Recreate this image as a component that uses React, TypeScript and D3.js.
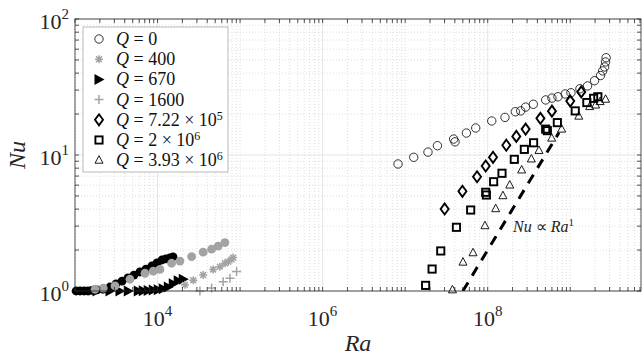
import React from 'react';
import * as d3 from 'd3';

const W = 644;
const H = 358;
const margin = { top: 19, right: 3, bottom: 67, left: 75 };

// Q = 0 (open circles)
const raQ0 = [8.2e6, 1.27e7, 1.89e7, 2.46e7, 3.87e7, 4.02e7, 5.52e7, 7.16e7, 1.12e8, 1.62e8, 2.16e8, 2.51e8, 2.88e8, 3.57e8, 5.04e8, 6.0e8, 7.1e8, 8.7e8, 1.02e9, 1.31e9, 1.62e9, 1.97e9, 2.33e9, 2.47e9, 2.61e9, 2.68e9, 2.72e9];
const nuQ0 = [8.59, 9.62, 10.5, 11.7, 13.1, 12.5, 14.5, 15.8, 17.8, 18.9, 20.8, 21.1, 22.5, 23.6, 25.4, 26.2, 26.8, 28.1, 28.7, 30.7, 32.2, 35.2, 38.4, 41.5, 44.4, 48.3, 51.9];

// Q = 400 (grey asterisks)
const raQ400 = [2.15e4, 2.71e4, 3.57e4, 4.72e4, 5.69e4, 6.55e4, 7.18e4, 7.89e4, 8.25e4];
const nuQ400 = [1.11, 1.2, 1.31, 1.44, 1.51, 1.6, 1.64, 1.71, 1.76];

// Q = 670 (black right triangles)
const raQ670 = [1.85e3, 2.65e3, 3.5e3, 4.42e3, 5.84e3, 6.71e3, 7.71e3, 8.87e3, 1.02e4, 1.17e4, 1.35e4, 1.55e4, 1.78e4, 2.05e4];
const nuQ670 = [1.0, 1.0, 1.0, 1.0, 1.0, 1.005, 1.01, 1.015, 1.02, 1.04, 1.07, 1.13, 1.19, 1.22];

// Q = 1600 (grey plus)
const raQ1600 = [3.26e4, 4.52e4, 6.24e4, 7.53e4, 9.07e4];
const nuQ1600 = [1.0, 1.05, 1.17, 1.24, 1.39];

// Q = 7.22e5 (diamonds)
const raQ722 = [3.01e7, 4.94e7, 7.43e7, 9.46e7, 1.16e8, 1.68e8, 2.22e8, 2.88e8, 4.35e8, 6.0e8, 1.0e9, 1.36e9];
const nuQ722 = [4.01, 5.41, 6.92, 8.3, 9.62, 11.8, 13.7, 15.5, 18.6, 21.0, 24.9, 29.1];

// Q = 2e6 (squares)
const raQ2 = [1.77e7, 2.12e7, 2.7e7, 4.18e7, 6.22e7, 9.46e7, 9.64e7, 1.18e8, 1.49e8, 2.1e8, 2.78e8, 3.6e8, 5.04e8, 5.28e8, 6.98e8, 1.15e9, 1.59e9, 1.92e9, 2.16e9];
const nuQ2 = [1.1, 1.45, 1.97, 2.94, 3.94, 5.32, 5.08, 6.36, 7.34, 9.29, 11.0, 12.3, 15.5, 15.1, 17.3, 21.1, 24.3, 26.1, 26.8];

// Q = 3.93e6 (triangles)
const raQ393 = [3.74e7, 5.02e7, 6.64e7, 9.27e7, 1.25e8, 1.53e8, 1.85e8, 2.58e8, 3.38e8, 4.18e8, 5.96e8, 7.87e8, 1.27e9, 1.72e9, 2.03e9, 2.3e9, 2.68e9];
const nuQ393 = [1.02, 1.63, 1.91, 3.02, 4.03, 5.02, 6.01, 7.76, 9.35, 10.8, 13.3, 15.5, 19.3, 22.7, 23.3, 24.7, 25.7];

// unlabelled low-Ra series (filled circles)
const raBlack = [1.03e3, 1.15e3, 1.29e3, 1.44e3, 1.61e3, 1.85e3, 2.18e3, 2.65e3, 3.14e3, 3.71e3, 4.38e3, 5.18e3, 6.12e3, 7.24e3, 8.55e3, 9.84e3, 1.13e4, 1.26e4, 1.41e4, 1.54e4];
const nuBlack = [1.0, 1.0, 1.0, 1.0, 1.01, 1.02, 1.03, 1.07, 1.13, 1.18, 1.25, 1.31, 1.38, 1.45, 1.53, 1.61, 1.69, 1.72, 1.75, 1.78];
const raGrey = [1.75e3, 2.2e3, 3.05e3, 4.63e3, 7.04e3, 8.87e3, 1.07e4, 1.48e4, 1.87e4, 2.59e4, 3.57e4, 4.52e4, 5.43e4, 6.55e4];
const nuGrey = [1.03, 1.05, 1.09, 1.22, 1.35, 1.4, 1.44, 1.6, 1.66, 1.79, 1.93, 2.03, 2.14, 2.27];

// Nu ~ Ra^1 guide
const fitRa = [5e7, 7.3e8];
const fitNu = [1, 14.6];

const xTicks = [1e4, 1e6, 1e8];
const yTicks = [1, 10, 100];

const legendLabels = [
  { kind: 'circle', text: ' = 0', exp: '' },
  { kind: 'asterisk', text: ' = 400', exp: '' },
  { kind: 'rtri', text: ' = 670', exp: '' },
  { kind: 'plus', text: ' = 1600', exp: '' },
  { kind: 'diamond', text: ' = 7.22 \u00d7 10', exp: '5' },
  { kind: 'square', text: ' = 2 \u00d7 10', exp: '6' },
  { kind: 'tri', text: ' = 3.93 \u00d7 10', exp: '6' },
];

const grey = '#a3a3a3';
const font = '"Liberation Serif", "Times New Roman", serif';

function Marker({ kind, x, y }: { kind: string; x: number; y: number }) {
  switch (kind) {
    case 'circle':
      return <circle cx={x} cy={y} r={4.2} fill="none" stroke="#000" strokeWidth={0.8} />;
    case 'bcircle':
      return <circle cx={x} cy={y} r={4.4} fill="#000" />;
    case 'gcircle':
      return <circle cx={x} cy={y} r={4.4} fill={grey} />;
    case 'asterisk': {
      const s = 4;
      const d = 2.9;
      return (
        <path
          d={`M${x - s},${y}L${x + s},${y}M${x},${y - s}L${x},${y + s}M${x - d},${y - d}L${x + d},${y + d}M${x - d},${y + d}L${x + d},${y - d}`}
          stroke={grey}
          strokeWidth={1.5}
          fill="none"
        />
      );
    }
    case 'plus': {
      const s = 4.5;
      return (
        <path d={`M${x - s},${y}L${x + s},${y}M${x},${y - s}L${x},${y + s}`} stroke={grey} strokeWidth={1.5} fill="none" />
      );
    }
    case 'rtri':
      return <path d={`M${x - 4.5},${y - 5.5}L${x + 5.5},${y}L${x - 4.5},${y + 5.5}Z`} fill="#000" />;
    case 'diamond':
      return (
        <path
          d={`M${x},${y - 5.5}L${x + 4},${y}L${x},${y + 5.5}L${x - 4},${y}Z`}
          fill="none"
          stroke="#000"
          strokeWidth={1.9}
        />
      );
    case 'square':
      return <rect x={x - 3.6} y={y - 3.6} width={7.2} height={7.2} fill="none" stroke="#000" strokeWidth={1.9} />;
    case 'tri':
      return (
        <path d={`M${x},${y - 4.5}L${x + 4},${y + 3}L${x - 4},${y + 3}Z`} fill="none" stroke="#000" strokeWidth={0.9} />
      );
    default:
      return null;
  }
}

export default function App() {
  const x = d3.scaleLog().domain([1e3, 7.2e9]).range([margin.left, W - margin.right]);
  const y = d3.scaleLog().domain([1, 100]).range([H - margin.bottom, margin.top]);
  const [x0, x1] = x.range();
  const [y0, y1] = y.range();

  const xMinor: number[] = [];
  for (let e = 3; e <= 9; e++) for (let m = 1; m <= 9; m++) {
    const v = m * Math.pow(10, e);
    if (v <= 7.2e9) xMinor.push(v);
  }
  const yMinor: number[] = [];
  for (let e = 0; e <= 1; e++) for (let m = 1; m <= 9; m++) yMinor.push(m * Math.pow(10, e));
  yMinor.push(100);

  const series = [
    { kind: 'bcircle', ra: raBlack, nu: nuBlack },
    { kind: 'rtri', ra: raQ670, nu: nuQ670 },
    { kind: 'gcircle', ra: raGrey, nu: nuGrey },
    { kind: 'asterisk', ra: raQ400, nu: nuQ400 },
    { kind: 'plus', ra: raQ1600, nu: nuQ1600 },
    { kind: 'circle', ra: raQ0, nu: nuQ0 },
    { kind: 'diamond', ra: raQ722, nu: nuQ722 },
    { kind: 'square', ra: raQ2, nu: nuQ2 },
    { kind: 'tri', ra: raQ393, nu: nuQ393 },
  ];

  const fitLine = d3.line<number>().x((d, i) => x(fitRa[i])).y((d, i) => y(fitNu[i]));
  const tick = 4;

  return (
    <svg width={W} height={H} style={{ position: 'absolute', left: 0, top: 0, background: '#fff', fontFamily: font }}>
      <defs>
        <clipPath id="plot-clip">
          <rect x={x0} y={y1} width={x1 - x0} height={y0 - y1} />
        </clipPath>
      </defs>
      <rect x={0} y={0} width={W} height={H} fill="#fff" />
      {/* minor grid */}
      <g stroke="#c8c8c8" strokeWidth={0.6} strokeDasharray="1,2">
        {xMinor.filter((v) => !xTicks.includes(v)).map((v, i) => (
          <line key={'gx' + i} x1={x(v)} x2={x(v)} y1={y0} y2={y1} />
        ))}
        {yMinor.filter((v) => !yTicks.includes(v)).map((v, i) => (
          <line key={'gy' + i} x1={x0} x2={x1} y1={y(v)} y2={y(v)} />
        ))}
      </g>
      {/* major grid */}
      <g stroke="#dedede" strokeWidth={0.8}>
        {xTicks.map((v) => (
          <line key={'Gx' + v} x1={x(v)} x2={x(v)} y1={y0} y2={y1} />
        ))}
        {yTicks.map((v) => (
          <line key={'Gy' + v} x1={x0} x2={x1} y1={y(v)} y2={y(v)} />
        ))}
      </g>
      {/* data */}
      <g clipPath="url(#plot-clip)">
        <path d={fitLine(fitRa) || ''} stroke="#000" strokeWidth={3} strokeDasharray="10,8" fill="none" />
      </g>
      <g>
        {series.map((s) =>
          s.ra.map((r, i) => <Marker key={s.kind + i} kind={s.kind} x={x(r)} y={y(s.nu[i])} />)
        )}
      </g>
      <text x={513} y={232} fontSize={16} fill="#222">
        <tspan fontStyle="italic">Nu</tspan>
        <tspan> {'\u221d'} </tspan>
        <tspan fontStyle="italic">Ra</tspan>
        <tspan dy={-6} fontSize={11}>1</tspan>
      </text>
      {/* axes box and ticks */}
      <g stroke="#262626" strokeWidth={0.8}>
        <rect x={x0} y={y1} width={x1 - x0} height={y0 - y1} fill="none" />
        {xMinor.map((v, i) => (
          <g key={'tx' + i}>
            <line x1={x(v)} x2={x(v)} y1={y0} y2={y0 - tick} />
            <line x1={x(v)} x2={x(v)} y1={y1} y2={y1 + tick} />
          </g>
        ))}
        {yMinor.map((v, i) => (
          <g key={'ty' + i}>
            <line x1={x0} x2={x0 + tick} y1={y(v)} y2={y(v)} />
            <line x1={x1} x2={x1 - tick} y1={y(v)} y2={y(v)} />
          </g>
        ))}
      </g>
      {/* tick labels */}
      <g fill="#262626" fontSize={22}>
        {xTicks.map((v) => (
          <text key={'lx' + v} x={x(v)} y={y0 + 35} textAnchor="middle">
            10<tspan dy={-10} fontSize={15}>{Math.round(Math.log10(v))}</tspan>
          </text>
        ))}
        {yTicks.map((v) => (
          <text key={'ly' + v} x={x0 - 6} y={y(v) + 10} textAnchor="end">
            10<tspan dy={-10} fontSize={15}>{Math.round(Math.log10(v))}</tspan>
          </text>
        ))}
      </g>
      <text x={(x0 + x1) / 2} y={351} textAnchor="middle" fontSize={24} fontStyle="italic" fill="#262626">
        Ra
      </text>
      <text
        transform={`translate(25,${(y0 + y1) / 2}) rotate(-90)`}
        textAnchor="middle"
        fontSize={24}
        fontStyle="italic"
        fill="#262626"
      >
        Nu
      </text>
      {/* legend */}
      <g>
        <rect x={83} y={27} width={145} height={145} fill="#fff" stroke="#a8a8a8" strokeWidth={0.8} />
        {legendLabels.map((l, i) => {
          const ly = 39 + i * 20.2;
          return (
            <g key={'lg' + i}>
              <Marker kind={l.kind} x={99} y={ly} />
              <text x={116} y={ly + 6} fontSize={18} fill="#111">
                <tspan fontStyle="italic">Q</tspan>
                <tspan>{l.text}</tspan>
                {l.exp ? (
                  <tspan dy={-6} fontSize={12}>
                    {l.exp}
                  </tspan>
                ) : null}
              </text>
            </g>
          );
        })}
      </g>
    </svg>
  );
}
